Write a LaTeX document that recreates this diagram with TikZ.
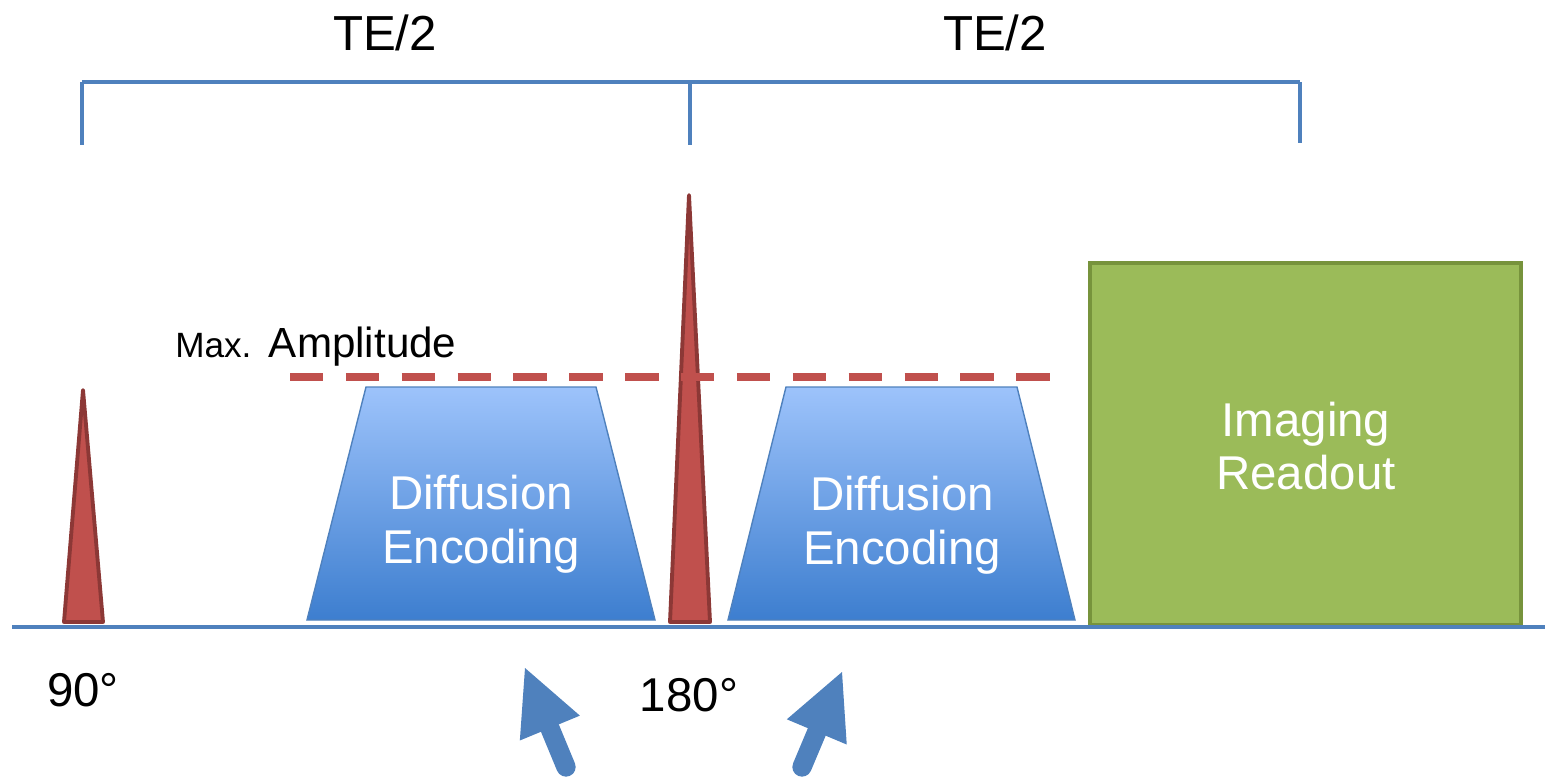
\documentclass[tikz,border=0pt]{standalone}
\usepackage{fontspec}
\setmainfont{Liberation Sans}
\usetikzlibrary{arrows.meta}

\definecolor{azul}{HTML}{4F81BD}
\definecolor{rojo}{HTML}{C0504D}
\definecolor{rojooscuro}{HTML}{8C3836}
\definecolor{verde}{HTML}{9BBB59}
\definecolor{verdeoscuro}{HTML}{77933C}
\definecolor{azulclaro}{HTML}{9DC3FB}
\definecolor{azulfuerte}{HTML}{3D7ECF}

\tikzset{
  eje/.style={azul, line width=2.6pt},
  llave/.style={azul, line width=2.5pt},
  pulso/.style={fill=rojo, draw=rojooscuro, line width=2.2pt, line join=round},
  gradiente/.style={draw=azul, line width=0.8pt, top color=azulclaro, bottom color=azulfuerte},
  lectura/.style={fill=verde, draw=verdeoscuro, line width=2.3pt},
  maxima/.style={rojo, line width=4pt, dash pattern=on 19pt off 12.8pt},
  flecha/.style={azul, line width=11pt, line cap=round,
    -{Triangle[length=37pt, width=37pt, line width=0pt]}},
  etiqueta/.style={font=\fontsize{27}{31}\selectfont, inner sep=0pt},
  blanco/.style={etiqueta, text=white, align=center}
}

\begin{document}
\begin{tikzpicture}[x=0.02cm,y=-0.02cm]
		
		\useasboundingbox (0,0) rectangle (1545,782);
		
		% Llave superior
		\coordinate (b1) at (82,82);
		\coordinate (b2) at (690,82);
		\coordinate (b3) at (1300,82);
		\draw[llave] (b1) -- (b3);
		\draw[llave] (b1) -- ++(0,63);
		\draw[llave] (b2) -- ++(0,63);
		\draw[llave] (b3) -- ++(0,61);
		
		% Encabezados
		\node[etiqueta, font=\fontsize{28}{32}\selectfont] (te1) at (385,33) {TE/2};
		\node[etiqueta, font=\fontsize{28}{32}\selectfont] (te2) at (995,33) {TE/2};
		
		% Gradientes de difusion
		\path[gradiente] (307,620) -- (366,387) -- (596,387) -- (655,620) -- cycle;
		\path[gradiente] (728,620) -- (786,387) -- (1017,387) -- (1075,620) -- cycle;
		\node[blanco] (dif1) at (481,524) {Diffusion\\Encoding};
		\node[blanco] (dif2) at (902,525) {Diffusion\\Encoding};
		
		% Lectura
		\draw[lectura] (1090,263) rectangle (1521,625);
		\node[blanco, font=\fontsize{27}{30}\selectfont] (img) at (1306,446) {Imaging\\Readout};
		
		% Pulsos
		\draw[pulso] (64,622) -- (83,390) -- (103,622) -- cycle;
		\draw[pulso] (670,622) -- (689,195) -- (710,622) -- cycle;
		
		% Amplitud maxima
		\coordinate (m1) at (290,377);
		\coordinate (m2) at (1052,377);
		\draw[maxima] (m1) -- (m2);
		\node[anchor=base west, inner sep=0pt] (amp) at (175,357)
		  {\fontsize{20}{22}\selectfont Max.\hspace{2.5pt} \fontsize{24}{28}\selectfont Amplitude};
		
		% Linea base
		\coordinate (e1) at (12,627);
		\coordinate (e2) at (1545,627);
		\draw[eje] (e1) -- (e2);
		
		% Angulos
		\node[etiqueta, anchor=base] (p90) at (83,706) {90°};
		\node[etiqueta, anchor=base] (p180) at (689,711) {180°};
		
		% Flechas
		\coordinate (f1) at (566,767);
		\coordinate (t1) at (525,668);
		\coordinate (f2) at (802,767);
		\coordinate (t2) at (842,672);
		\draw[flecha] (f1) -- (t1);
		\draw[flecha] (f2) -- (t2);
		
	\end{tikzpicture}
\end{document}
